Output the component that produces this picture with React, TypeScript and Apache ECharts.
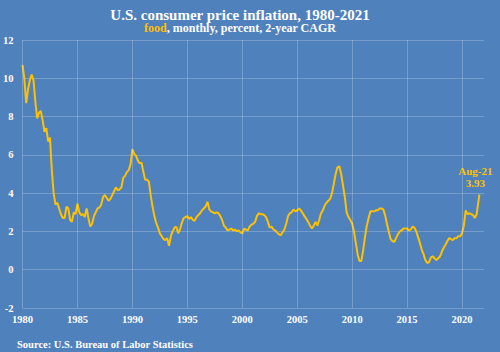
import React, { useEffect, useRef } from "react";
import * as echarts from "echarts";

// Bimonthly readings (Jan, Mar, May, Jul, Sep, Nov), percent, 2-year CAGR of food CPI
const startYear = 1980;
const food: number[] = [
  // 1980
  10.7, 10.0, 8.7, 9.4, 9.9, 10.2,
  // 1981
  9.9, 8.8, 7.9, 8.2, 8.3, 7.8,
  // 1982
  7.2, 7.4, 6.7, 6.9, 5.2, 4.0,
  // 1983
  3.4, 3.5, 3.2, 2.9, 2.7, 2.7,
  // 1984
  3.3, 3.2, 2.6, 2.5, 3.0, 2.9,
  // 1985
  3.45, 3.0, 2.85, 2.9, 2.75, 3.2,
  // 1986
  2.7, 2.25, 2.4, 2.8, 3.0, 3.2,
  // 1987
  3.25, 3.4, 3.8, 3.9, 3.75, 3.6,
  // 1988
  3.7, 3.9, 4.1, 4.3, 4.15, 4.2,
  // 1989
  4.3, 4.8, 4.9, 5.1, 5.2, 5.5,
  // 1990
  6.3, 6.05, 5.95, 5.7, 5.55, 5.6,
  // 1991
  5.1, 4.7, 4.7, 4.6, 3.9, 3.3,
  // 1992
  2.8, 2.45, 2.2, 1.9, 1.75, 1.6,
  // 1993
  1.55, 1.65, 1.25, 1.75, 2.0, 2.2,
  // 1994
  2.25, 1.9, 2.1, 2.45, 2.7, 2.75,
  // 1995
  2.8, 2.65, 2.75, 2.6, 2.55, 2.75,
  // 1996
  2.85, 2.95, 3.1, 3.2, 3.3, 3.55,
  // 1997
  3.15, 3.05, 3.0, 2.95, 3.0, 2.95,
  // 1998
  2.8, 2.6, 2.3, 2.2, 2.05, 2.1,
  // 1999
  2.15, 2.05, 2.1, 2.0, 2.05, 1.95,
  // 2000
  1.9, 2.15, 2.1, 2.05, 2.25, 2.35,
  // 2001
  2.4, 2.5, 2.8, 2.95, 2.9, 2.9,
  // 2002
  2.85, 2.75, 2.5, 2.2, 2.25, 2.1,
  // 2003
  2.05, 1.95, 1.85, 1.8, 1.95, 2.1,
  // 2004
  2.4, 2.8, 2.95, 3.0, 3.15, 3.05,
  // 2005
  3.1, 3.2, 3.1, 2.95, 2.8, 2.65,
  // 2006
  2.5, 2.3, 2.15, 2.3, 2.5, 2.3,
  // 2007
  2.6, 2.95, 3.1, 3.35, 3.5, 3.6,
  // 2008
  3.7, 4.0, 4.5, 5.0, 5.35, 5.4,
  // 2009
  5.0, 4.4, 3.8, 3.0, 2.75, 2.6,
  // 2010
  2.4, 2.0, 1.4, 0.8, 0.45, 0.45,
  // 2011
  1.0, 1.7, 2.3, 2.7, 3.05, 3.05,
  // 2012
  3.05, 3.1, 3.1, 3.2, 3.2, 3.15,
  // 2013
  2.85, 2.4, 2.0, 1.6, 1.5, 1.45,
  // 2014
  1.65, 1.85, 2.0, 2.05, 2.15, 2.15,
  // 2015
  2.15, 2.05, 2.1, 2.25, 2.2, 2.0,
  // 2016
  1.7, 1.4, 1.05, 0.8, 0.5, 0.35,
  // 2017
  0.4, 0.65, 0.7, 0.6, 0.5, 0.6,
  // 2018
  0.7, 0.95, 1.15, 1.3, 1.5, 1.65,
  // 2019
  1.6, 1.55, 1.65, 1.65, 1.75, 1.75,
  // 2020
  1.9, 2.3, 3.1, 2.9, 2.95, 2.9,
  // 2021
  2.85, 2.7, 2.9, 3.6,
];
const lastLabel = "Aug-21";
const lastValue = 3.93;
const lastMonth = 2021 + 7 / 12;

const xTicks = [1980, 1985, 1990, 1995, 2000, 2005, 2010, 2015, 2020];
const yMin = -2;
const yMax = 12;
const yStep = 2;

const BG = "#4F81BD";
const GOLD = "#FFC000";
const GRID = "rgba(255,255,255,0.22)";
const FONT = "'Liberation Serif', 'DejaVu Serif', serif";

export default function App() {
  const ref = useRef<HTMLDivElement>(null);
  useEffect(() => {
    document.body.style.margin = "0";
    if (!ref.current) return;
    const chart = echarts.init(ref.current, undefined, { renderer: "svg" });
    const pts: number[][] = food.map((v, i) => [startYear + (i * 2) / 12, v]);
    pts.push([lastMonth, lastValue]);
    chart.setOption({
      animation: false,
      backgroundColor: BG,
      textStyle: { fontFamily: FONT },
      title: [
        {
          text: "U.S. consumer price inflation, 1980-2021",
          left: 235,
          textAlign: "center",
          top: 2,
          textStyle: { color: "#fff", fontSize: 15, fontWeight: "bold", fontFamily: FONT },
        },
        {
          text: "{g|food}{w|, monthly, percent, 2-year CAGR}",
          left: 235,
          textAlign: "center",
          top: 17,
          textStyle: {
            rich: {
              g: { color: GOLD, fontSize: 12, fontWeight: "bold", fontFamily: FONT },
              w: { color: "#fff", fontSize: 12, fontWeight: "bold", fontFamily: FONT },
            },
          },
        },
        {
          text: "Source: U.S. Bureau of Labor Statistics",
          left: 12,
          top: 334,
          textStyle: { color: "#fff", fontSize: 10.5, fontWeight: "bold", fontFamily: FONT },
        },
      ],
      grid: { left: 22, right: 16, top: 40, bottom: 44, containLabel: false },
      xAxis: {
        type: "value",
        min: 1980,
        max: 2022,
        interval: 5,
        axisLine: { show: false },
        axisTick: { show: false },
        splitLine: { show: false },
        axisLabel: {
          color: "#fff",
          fontFamily: FONT,
          fontWeight: "bold",
          fontSize: 10.5,
          margin: 6,
          formatter: (v: number) => (xTicks.includes(v) ? String(v) : ""),
        },
      },
      yAxis: {
        type: "value",
        min: yMin,
        max: yMax,
        interval: yStep,
        axisLine: { show: false },
        axisTick: { show: false },
        splitLine: { show: true, lineStyle: { color: GRID, width: 1 } },
        axisLabel: {
          color: "#fff",
          fontFamily: FONT,
          fontWeight: "bold",
          fontSize: 10.5,
          margin: 9,
        },
      },
      series: [
        {
          type: "line",
          data: pts,
          showSymbol: false,
          symbol: "none",
          lineStyle: { color: GOLD, width: 2 },
          itemStyle: { color: GOLD },
          markLine: {
            silent: true,
            symbol: "none",
            label: { show: false },
            lineStyle: { color: GRID, width: 1, type: "solid" },
            data: xTicks.map((t) => ({ xAxis: t })),
          },
          markPoint: {
            silent: true,
            symbol: "circle",
            symbolSize: 1,
            itemStyle: { color: "rgba(0,0,0,0)" },
            data: [
              {
                coord: [lastMonth, lastValue],
                label: {
                  show: true,
                  position: "top",
                  distance: 5,
                  offset: [-4, 0],
                  formatter: `${lastLabel}\n${lastValue.toFixed(2)}`,
                  color: GOLD,
                  fontFamily: FONT,
                  fontWeight: "bold",
                  fontSize: 11,
                  lineHeight: 12,
                  align: "center",
                },
              },
            ],
          },
        },
      ],
    });
    return () => chart.dispose();
  }, []);
  return <div ref={ref} style={{ width: 500, height: 352, position: "absolute", left: 0, top: 0 }} />;
}
